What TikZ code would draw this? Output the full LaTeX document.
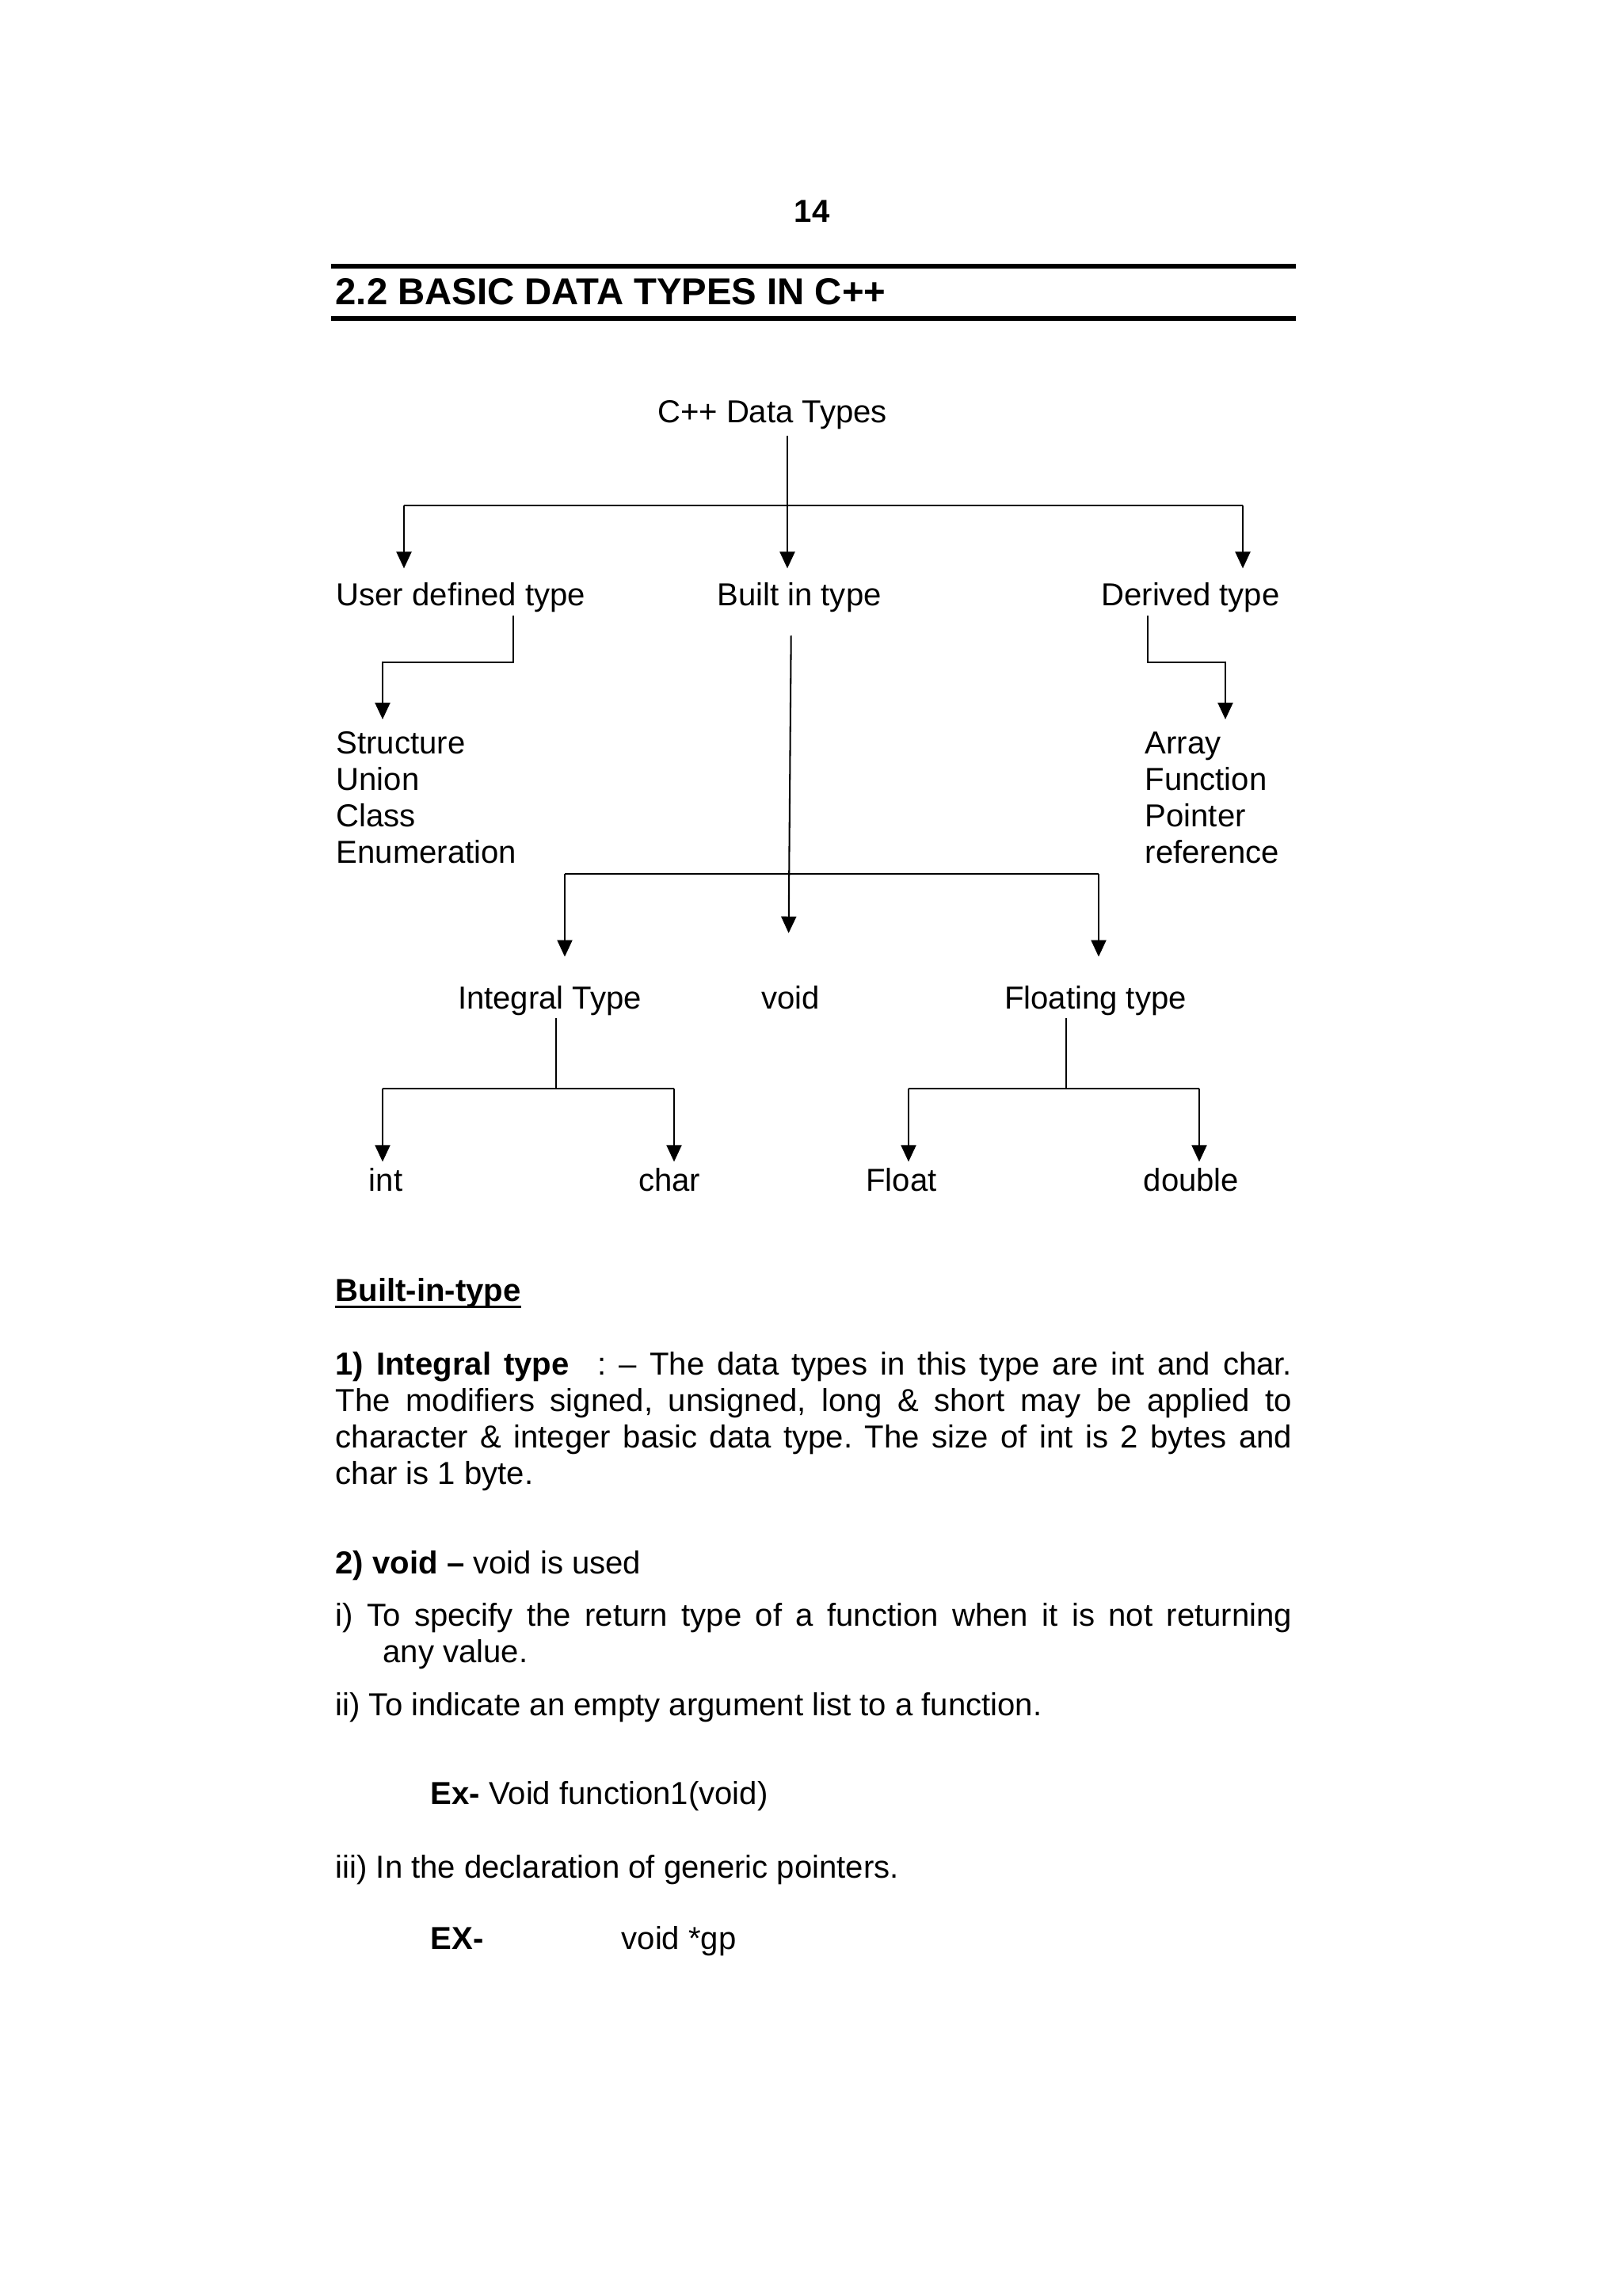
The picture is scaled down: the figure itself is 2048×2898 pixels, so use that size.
\documentclass[tikz,border=0pt]{standalone}
\usepackage{fontspec}
\setmainfont{Liberation Sans}
\usepackage{tikz}
\usetikzlibrary{arrows.meta, positioning}
\frenchspacing

\begin{document}
\begin{tikzpicture}[x=0.10254mm, y=-0.10254mm,
    font=\fontsize{11.7}{13.4}\selectfont,
    lbl/.style={inner sep=0pt, text height=8.5pt, text depth=2.5pt, anchor=base},
    lst/.style={inner sep=0pt, align=left, anchor=north west},
    link/.style={line width=0.6pt},
    arr/.style={link, -{Triangle[length=2.15mm, width=1.95mm]}},
    rule/.style={line width=1.5pt},
    txt/.style={inner sep=0pt, anchor=base west},
    para/.style={inner sep=0pt, anchor=north west, text width=123.8mm, align=justify}]

    % Page
    \path[fill=white] (0,0) rectangle (2048,2898);

    % Heading
    \node[lbl, font=\fontsize{11.7}{13.4}\selectfont\bfseries] (pagenum) at (1025,280) {14};
    \draw[rule] (418,336) -- (1636,336);
    \node[txt, font=\fontsize{13.8}{15}\selectfont\bfseries] (title) at (423,384) {2.2 BASIC DATA TYPES IN C++};
    \draw[rule] (418,402) -- (1636,402);

    % Tree nodes
    \node[lbl] (root) at (975,533) {C++ Data Types};
    \node[lbl, anchor=base west] (user) at (424,764) {User defined type};
    \node[lbl] (builtin) at (1009,764) {Built in type};
    \node[lbl] (derived) at (1503,764) {Derived type};
    \node[lst] (ulist) at (424,923) {Structure\\Union\\Class\\Enumeration};
    \node[lst] (dlist) at (1445,923) {Array\\Function\\Pointer\\reference};
    \node[lbl] (integral) at (694,1273) {Integral Type};
    \node[lbl] (void) at (998,1273) {void};
    \node[lbl] (floating) at (1383,1273) {Floating type};
    \node[lbl] (int) at (487,1503) {int};
    \node[lbl] (char) at (845,1503) {char};
    \node[lbl] (float) at (1138,1503) {Float};
    \node[lbl] (double) at (1504,1503) {double};

    % Junctions
    \coordinate (jtop) at (994,638);
    \coordinate (jl) at (510,638);
    \coordinate (jr) at (1569,638);
    \coordinate (ua) at (648,836);
    \coordinate (ub) at (483,836);
    \coordinate (da) at (1449,836);
    \coordinate (db) at (1547,836);
    \coordinate (ml) at (713,1103);
    \coordinate (mr) at (1387,1103);
    \coordinate (ic) at (702,1374);
    \coordinate (il) at (483,1374);
    \coordinate (ir) at (851,1374);
    \coordinate (fc) at (1346,1374);
    \coordinate (fl) at (1147,1374);
    \coordinate (fr) at (1514,1374);

    % Connectors
    \draw[arr, shorten <=2.2pt, shorten >=4.9pt] (root.south -| jtop) -- (builtin.north -| jtop);
    \draw[link] (jl) -- (jr);
    \draw[arr, shorten >=4.9pt] (jl) -- (jl |- user.north);
    \draw[arr, shorten >=4.9pt] (jr) -- (jr |- derived.north);
    \draw[arr, shorten <=1pt, shorten >=4.4pt] (user.south -| ua) -- (ua) -- (ub) -- (ub |- ulist.north);
    \draw[arr, shorten <=1pt, shorten >=4.4pt] (derived.south -| da) -- (da) -- (db) -- (db |- dlist.north);
    \draw[arr, shorten <=8.5pt, shorten >=19.1pt] ([xshift=-1.03mm]builtin.south) -- ([xshift=-0.3mm]void.north);
    \draw[link] (ml) -- (mr);
    \draw[arr, shorten >=10.4pt] (ml) -- (ml |- integral.north);
    \draw[arr, shorten >=10.4pt] (mr) -- (mr |- floating.north);
    \draw[link, shorten <=0.7pt] (integral.south -| ic) -- (ic);
    \draw[link] (il) -- (ir);
    \draw[arr, shorten >=2pt] (il) -- (il |- int.north);
    \draw[arr, shorten >=2pt] (ir) -- (ir |- char.north);
    \draw[link, shorten <=0.7pt] (floating.south -| fc) -- (fc);
    \draw[link] (fl) -- (fr);
    \draw[arr, shorten >=2pt] (fl) -- (fl |- float.north);
    \draw[arr, shorten >=2pt] (fr) -- (fr |- double.north);

    % Text
    \node[txt, font=\fontsize{11.7}{13.4}\selectfont\bfseries] (bit) at (423,1642) {Built-in-type};
    \draw[line width=0.9pt] ([yshift=-2.3pt]bit.base west) -- ([yshift=-2.3pt]bit.base east);
    \node[para] (integraltxt) at (423,1703) {\strut\textbf{1) Integral type}\hspace{0.9em}: – The data types in this type are int and char.\linebreak
      The modifiers signed, unsigned, long \& short may be applied to\linebreak
      character \& integer basic data type. The size of int is 2 bytes and\linebreak
      char is 1 byte.};
    \node[txt] (voidtxt) at (423,1986) {\textbf{2) void –} void is used};
    \node[para] (usei) at (423,2020) {\strut i) To specify the return type of a function when it is not returning\linebreak\hspace*{6.15mm}any value.};
    \node[txt] (useii) at (423,2165) {ii) To indicate an empty argument list to a function.};
    \node[txt] (exa) at (543,2277) {\textbf{Ex-} Void function1(void)};
    \node[txt] (useiii) at (423,2370) {iii) In the declaration of generic pointers.};
    \node[txt] (exb) at (543,2460) {\textbf{EX-}};
    \node[txt] (gp) at (784,2460) {void *gp};
\end{tikzpicture}
\end{document}
